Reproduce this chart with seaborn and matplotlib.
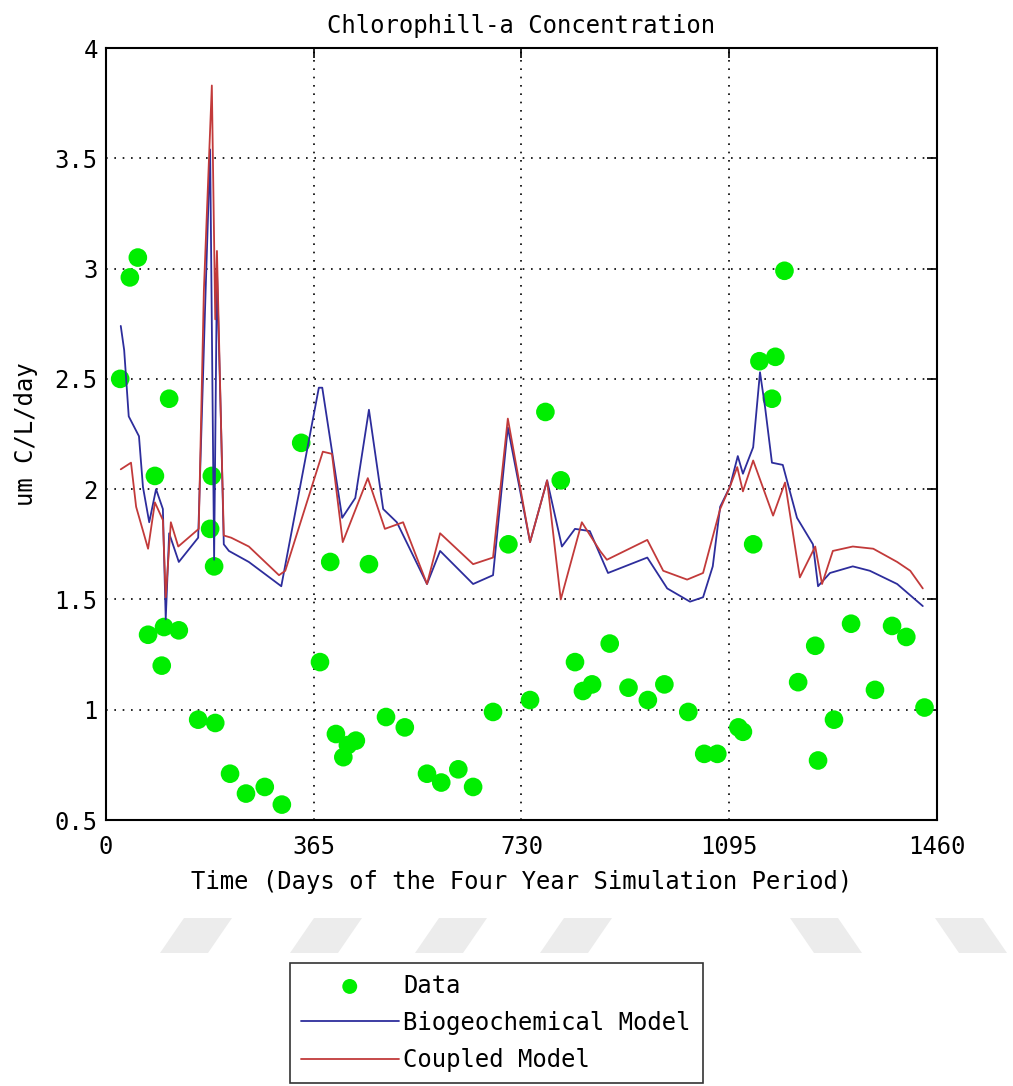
import numpy as np
import pandas as pd
import matplotlib
matplotlib.use("Agg")
import matplotlib.pyplot as plt
from matplotlib.patches import Polygon
import seaborn as sns

# observed chlorophyll data (day, value)
data_day = [25, 42, 56, 74, 86, 98, 102, 111, 128, 162, 183, 186, 190, 192,
            218, 246, 279, 309, 343, 376, 394, 404, 417, 425, 439, 462, 492,
            525, 564, 589, 619, 645, 680, 707, 745, 772, 799, 824, 838, 854,
            885, 918, 952, 981, 1023, 1051, 1074, 1111, 1119, 1137, 1148,
            1176, 1170, 1192, 1216, 1246, 1251, 1279, 1309, 1351, 1381, 1406,
            1438]
data_val = [2.50, 2.96, 3.05, 1.34, 2.06, 1.20, 1.375, 2.41, 1.36, 0.955,
            1.82, 2.06, 1.65, 0.94, 0.71, 0.62, 0.65, 0.57, 2.21, 1.216,
            1.67, 0.89, 0.785, 0.84, 0.86, 1.66, 0.967, 0.92, 0.71, 0.67,
            0.73, 0.65, 0.99, 1.75, 1.044, 2.35, 2.04, 1.216, 1.085, 1.115,
            1.30, 1.10, 1.044, 1.115, 0.99, 0.80, 0.80, 0.92, 0.90, 1.75,
            2.58, 2.60, 2.41, 2.99, 1.125, 1.29, 0.77, 0.955, 1.39, 1.09,
            1.38, 1.33, 1.01]

# biogeochemical model
bio_day = [26, 32, 40, 58, 65, 76, 88, 100, 105, 111, 128, 162, 174, 183,
           190, 195, 202, 207, 216, 251, 308, 374, 380, 415, 438, 462, 487,
           511, 564, 587, 645, 680, 706, 745, 775, 801, 824, 850, 882, 951,
           986, 1026, 1049, 1066, 1079, 1096, 1110, 1119, 1137, 1149, 1158,
           1170, 1189, 1214, 1242, 1251, 1272, 1312, 1342, 1390, 1435]
bio_val = [2.74, 2.63, 2.33, 2.24, 2.01, 1.85, 2.00, 1.91, 1.41, 1.80, 1.67,
           1.78, 2.81, 3.54, 1.68, 2.99, 2.31, 1.75, 1.72, 1.67, 1.56, 2.46,
           2.46, 1.87, 1.96, 2.36, 1.91, 1.85, 1.57, 1.72, 1.57, 1.61, 2.28,
           1.76, 2.04, 1.74, 1.82, 1.81, 1.62, 1.69, 1.55, 1.49, 1.51, 1.65,
           1.92, 2.01, 2.15, 2.07, 2.19, 2.53, 2.37, 2.12, 2.11, 1.87, 1.75,
           1.56, 1.62, 1.65, 1.63, 1.57, 1.47]

# coupled model
cpl_day = [26, 44, 53, 74, 86, 100, 105, 114, 127, 163, 172, 186, 192, 195,
           202, 207, 220, 251, 304, 315, 381, 397, 416, 460, 490, 522, 564,
           587, 645, 680, 706, 745, 775, 799, 836, 868, 880, 951, 979, 1021,
           1049, 1079, 1096, 1109, 1119, 1137, 1172, 1193, 1219, 1246, 1258,
           1277, 1312, 1348, 1390, 1413, 1435]
cpl_val = [2.09, 2.12, 1.92, 1.73, 1.94, 1.86, 1.51, 1.85, 1.74, 1.82, 2.90,
           3.83, 2.77, 3.08, 2.31, 1.79, 1.78, 1.74, 1.61, 1.63, 2.17, 2.16,
           1.76, 2.05, 1.82, 1.85, 1.57, 1.80, 1.66, 1.69, 2.32, 1.76, 2.04,
           1.50, 1.85, 1.72, 1.68, 1.77, 1.63, 1.59, 1.62, 1.91, 2.01, 2.10,
           1.99, 2.13, 1.88, 2.03, 1.60, 1.74, 1.57, 1.72, 1.74, 1.73, 1.67,
           1.63, 1.55]

x_ticks = [0, 365, 730, 1095, 1460]
y_ticks = [0.5, 1, 1.5, 2, 2.5, 3, 3.5, 4]
y_ticklabels = ["0.5", "1", "1.5", "2", "2.5", "3", "3.5", "4"]

sns.set_style("white")
plt.rcParams['font.family'] = ['DejaVu Sans Mono']
plt.rcParams['text.color'] = 'black'
fs = 17.2

fig = plt.figure(figsize=(10.13, 10.86), dpi=100)
ax = fig.add_axes([0.1046, 0.2449, 0.8204, 0.7109])

df_data = pd.DataFrame({"day": data_day, "val": data_val})
df_bio = pd.DataFrame({"day": bio_day, "val": bio_val})
df_cpl = pd.DataFrame({"day": cpl_day, "val": cpl_val})

sns.scatterplot(data=df_data, x="day", y="val", ax=ax, color="#00ee00",
                s=180, edgecolor="none", zorder=2, label="Data")
sns.lineplot(data=df_bio, x="day", y="val", ax=ax, color="#2d2d9c",
             linewidth=1.3, sort=False, estimator=None, zorder=3,
             label="Biogeochemical Model")
sns.lineplot(data=df_cpl, x="day", y="val", ax=ax, color="#c23a3a",
             linewidth=1.3, sort=False, estimator=None, zorder=4,
             label="Coupled Model")

ax.set_xlim(0, 1460)
ax.set_ylim(0.5, 4)
ax.set_xticks(x_ticks)
ax.set_yticks(y_ticks)
ax.set_yticklabels(y_ticklabels)
ax.grid(True, color="black", linestyle=(0, (1, 4)), linewidth=1.2)
ax.tick_params(direction="in", length=7, width=1.2, top=True, right=True,
               labelsize=fs, colors="black")
ax.tick_params(axis="x", pad=11)
ax.tick_params(axis="y", pad=6)
for sp in ax.spines.values():
    sp.set_visible(True)
    sp.set_color("black")
    sp.set_linewidth(1.5)

ax.set_title("Chlorophill-a Concentration", fontsize=fs, pad=11,
             color="black")
ax.set_xlabel("Time (Days of the Four Year Simulation Period)", fontsize=fs,
              labelpad=8, color="black")
ax.set_ylabel("um C/L/day", fontsize=fs, labelpad=12, color="black")

handles, labels = ax.get_legend_handles_labels()
ax.get_legend().remove()
leg = fig.legend(handles, labels, loc="lower left",
                 bbox_to_anchor=(0.2863, 0.003, 0.4077, 0.1087),
                 mode="expand", fontsize=fs, frameon=True, fancybox=False,
                 handlelength=4.1, handletextpad=0.2, borderpad=0.45,
                 labelspacing=0.55, borderaxespad=0, markerscale=0.8)
leg.get_frame().set_edgecolor("black")
leg.get_frame().set_linewidth(1.2)

# faint watermark chevrons
W, H = 1013.0, 1086.0
shapes = [(160, 1), (290, 1), (415, 1), (540, 1), (790, -1), (935, -1)]
for x0, s in shapes:
    if s == 1:
        pts = [(x0, 953), (x0 + 48, 953), (x0 + 72, 918), (x0 + 24, 918)]
    else:
        pts = [(x0 + 24, 953), (x0 + 72, 953), (x0 + 48, 918), (x0, 918)]
    pts = [(px / W, 1 - py / H) for px, py in pts]
    fig.patches.append(Polygon(pts, closed=True, transform=fig.transFigure,
                               facecolor="#ececec", edgecolor="none",
                               zorder=0))

fig.savefig("out.png", dpi=100)
